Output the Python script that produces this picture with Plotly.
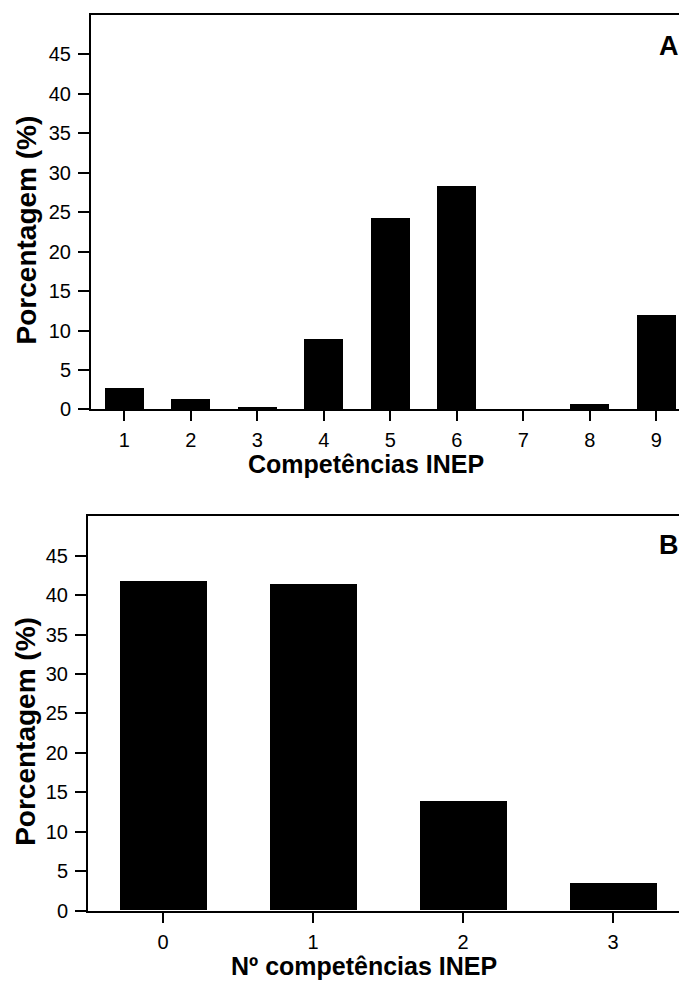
import plotly.graph_objects as go

# Panel A data
comp_labels = [1, 2, 3, 4, 5, 6, 7, 8, 9]
comp_pct = [2.7, 1.4, 0.35, 9.0, 24.3, 28.3, 0.0, 0.75, 12.0]

# Panel B data
ncomp_labels = [0, 1, 2, 3]
ncomp_pct = [41.8, 41.4, 13.8, 3.4]

y_ticks = [0, 5, 10, 15, 20, 25, 30, 35, 40, 45]

W, H = 679, 995
FONT = "Liberation Sans, Arial, sans-serif"

fig = go.Figure()
fig.add_trace(go.Bar(x=comp_labels, y=comp_pct, width=0.59,
                     marker=dict(color="black", line=dict(width=0)),
                     xaxis="x", yaxis="y", showlegend=False))
fig.add_trace(go.Bar(x=ncomp_labels, y=ncomp_pct, width=0.58,
                     marker=dict(color="black", line=dict(width=0)),
                     xaxis="x2", yaxis="y2", showlegend=False))

def px_x(p):
    return p / W

def px_y(p):
    return (H - p) / H

axis_common = dict(showline=True, linecolor="black", linewidth=2,
                   showgrid=False, zeroline=False, ticks="outside",
                   tickcolor="black", tickwidth=2,
                   tickfont=dict(family=FONT, size=20, color="black"))

fig.update_layout(
    width=W, height=H,
    margin=dict(l=0, r=0, t=0, b=0),
    paper_bgcolor="white", plot_bgcolor="white",
    bargap=0,
    xaxis=dict(domain=[px_x(91), 1], range=[0.5, 0.5 + (679 - 91) / 66.5],
               anchor="y", tickvals=comp_labels, ticklen=10, mirror=True,
               ticklabelstandoff=2, **axis_common),
    yaxis=dict(domain=[px_y(414), px_y(15)], range=[0, 50], anchor="x",
               tickvals=y_ticks, ticklen=11, ticklabelstandoff=3,
               **axis_common),
    xaxis2=dict(domain=[px_x(88), 1], range=[-0.5, -0.5 + (679 - 88) / 150],
                anchor="y2", tickvals=ncomp_labels, ticklen=10, mirror=True,
                ticklabelstandoff=2, **axis_common),
    yaxis2=dict(domain=[px_y(920.7), px_y(522)], range=[0, 50], anchor="x2",
                tickvals=y_ticks, ticklen=11, ticklabelstandoff=3,
                **axis_common),
)

xtitle_font = dict(family=FONT, size=25, color="black")
ytitle_font = dict(family=FONT, size=28, color="black")
label_font = dict(family=FONT, size=27, color="black")

annotations = [
    dict(text="<b>Competências INEP</b>", x=px_x(366), y=px_y(469),
         font=xtitle_font),
    dict(text="<b>Nº competências INEP</b>", x=px_x(364), y=px_y(977),
         font=xtitle_font),
    dict(text="<b>Porcentagem (%)</b>", x=px_x(26), y=px_y(233),
         textangle=-90, font=ytitle_font),
    dict(text="<b>Porcentagem (%)</b>", x=px_x(26), y=px_y(740),
         textangle=-90, font=ytitle_font),
    dict(text="<b>A</b>", x=px_x(669), y=px_y(47), font=label_font),
    dict(text="<b>B</b>", x=px_x(669), y=px_y(551), font=label_font),
]
for a in annotations:
    a.update(xref="paper", yref="paper", showarrow=False,
             xanchor="center", yanchor="middle")
fig.update_layout(annotations=annotations)

fig.write_html(
    "out.html",
    config={"displayModeBar": False},
    post_script=("document.body.style.margin='0';"
                 "document.body.style.overflow='hidden';"
                 "document.documentElement.style.overflow='hidden';"
                 "var gd=document.getElementById('{plot_id}');"
                 "gd.style.position='fixed';gd.style.top='0px';"
                 "gd.style.left='0px';"),
)
